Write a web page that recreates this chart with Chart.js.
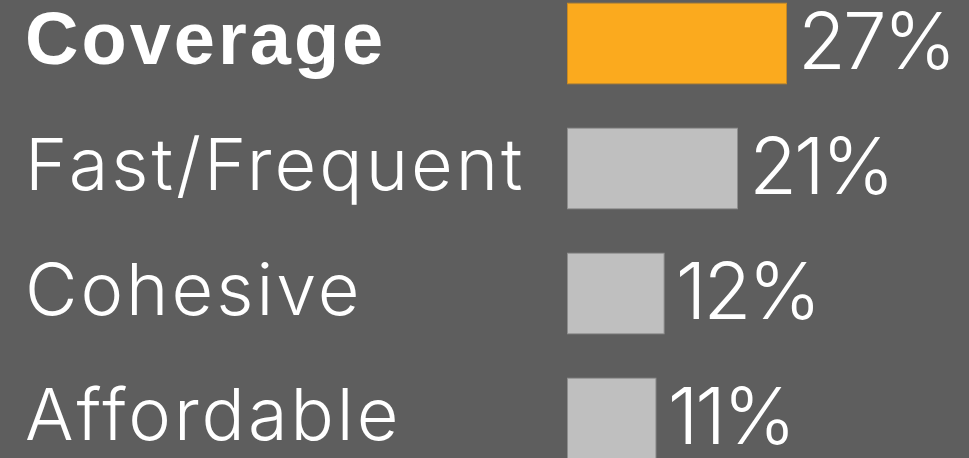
<!DOCTYPE html>
<html>
<head>
<meta charset="utf-8">
<script src="https://cdn.jsdelivr.net/npm/chart.js@4.4.1/dist/chart.umd.min.js"></script>
<style>
  html, body { margin: 0; padding: 0; background: #5e5e5e; overflow: hidden; }
  #wrap { position: absolute; left: 0; top: -19px; width: 969px; height: 500px; }
</style>
</head>
<body>
<div id="wrap"><canvas id="chart"></canvas></div>
<script>
// datos
const categories = ['Coverage', 'Fast/Frequent', 'Cohesive', 'Affordable'];
const shares = [27, 21, 12, 11];
const barColors = ['#fbaa1e', '#bfbfbf', '#bfbfbf', '#bfbfbf'];
const edgeColors = ['#c98a22', '#8e8e8e', '#8e8e8e', '#8e8e8e'];

const lightFont = "Inter, 'DejaVu Sans', sans-serif";

// espaciado de letras más ancho para imitar la fuente original
const wideText = {
    id: 'wideText',
    beforeDraw(chart) {
        chart.ctx.letterSpacing = '3px';
    }
};

// etiquetas de porcentaje a la derecha de cada barra
const valueLabels = {
    id: 'valueLabels',
    afterDatasetsDraw(chart) {
        const { ctx } = chart;
        const meta = chart.getDatasetMeta(0);
        ctx.save();
        ctx.letterSpacing = '-3px';
        ctx.fillStyle = '#ffffff';
        ctx.font = '300 78px ' + lightFont;
        ctx.textAlign = 'left';
        ctx.textBaseline = 'middle';
        meta.data.forEach((bar, i) => {
            ctx.fillText(shares[i] + '%', bar.x + 11, bar.y + 2);
        });
        ctx.restore();
    }
};

new Chart(document.getElementById('chart'), {
    type: 'bar',
    data: {
        labels: categories,
        datasets: [{
            data: shares,
            backgroundColor: barColors,
            borderColor: edgeColors,
            borderWidth: 1,
            borderSkipped: false,
            barPercentage: 1,
            categoryPercentage: 0.656
        }]
    },
    options: {
        indexAxis: 'y',
        responsive: true,
        maintainAspectRatio: false,
        animation: false,
        layout: { padding: { left: 25, right: 76, top: 0, bottom: 0 } },
        plugins: {
            legend: { display: false },
            tooltip: { enabled: false }
        },
        scales: {
            x: {
                display: false,
                min: 0,
                max: 40
            },
            y: {
                grid: { display: false },
                border: { display: false },
                ticks: {
                    color: '#ffffff',
                    crossAlign: 'far',
                    padding: 0,
                    font: (c) => c.index === 0
                        ? { family: "'Liberation Sans', Arial, sans-serif", weight: 'bold', size: 74 }
                        : { family: lightFont, weight: 300, size: 72 }
                },
                afterFit(scale) {
                    scale.width = 542;
                    scale.paddingTop = 0;
                    scale.paddingBottom = 0;
                }
            }
        }
    },
    plugins: [wideText, valueLabels]
});
</script>
</body>
</html>
